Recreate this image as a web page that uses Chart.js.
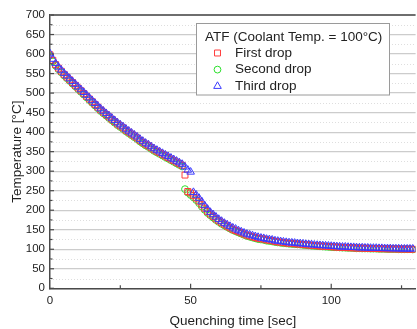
<!DOCTYPE html>
<html>
<head>
<meta charset="utf-8">
<script src="https://cdn.jsdelivr.net/npm/chart.js@4.4.1/dist/chart.umd.min.js"></script>
<style>
  html, body { margin: 0; padding: 0; background: #ffffff; overflow: hidden; }
  canvas { display: block; }
</style>
</head>
<body>
<canvas id="quench" width="421" height="329"></canvas>
<script>
// Quenching curves, ATF coolant at 100 degC (1 s steps)
const timeSec = [
    0, 1, 2, 3, 4, 5, 6, 7, 8, 9,
    10, 11, 12, 13, 14, 15, 16, 17, 18, 19,
    20, 21, 22, 23, 24, 25, 26, 27, 28, 29,
    30, 31, 32, 33, 34, 35, 36, 37, 38, 39,
    40, 41, 42, 43, 44, 45, 46, 47, 48, 49,
    50, 51, 52, 53, 54, 55, 56, 57, 58, 59,
    60, 61, 62, 63, 64, 65, 66, 67, 68, 69,
    70, 71, 72, 73, 74, 75, 76, 77, 78, 79,
    80, 81, 82, 83, 84, 85, 86, 87, 88, 89,
    90, 91, 92, 93, 94, 95, 96, 97, 98, 99,
    100, 101, 102, 103, 104, 105, 106, 107, 108, 109,
    110, 111, 112, 113, 114, 115, 116, 117, 118, 119,
    120, 121, 122, 123, 124, 125, 126, 127, 128, 129
];

const firstDrop = [
    598, 584, 573, 564, 556, 548, 541, 534, 527, 520,
    513, 506, 499, 492, 485, 478, 471, 464, 457, 451,
    445, 439, 433, 427, 421, 416, 411, 405, 400, 395,
    390, 385, 379, 374, 369, 365, 360, 355, 351, 347,
    343, 339, 335, 331, 327, 323, 319, 315, 290, 248,
    244, 238, 231, 223, 214, 205, 197, 190, 184, 178,
    173, 168, 164, 159, 155, 151, 148, 145, 142, 139,
    136, 134, 132, 130, 128, 127, 126, 124, 123, 122,
    120, 119, 118, 117, 116, 115.5, 115, 114, 113.5, 113,
    112, 111.5, 111, 110, 109.5, 109, 108, 108, 107.5, 107,
    106.5, 106, 105.5, 105, 105, 104.5, 104, 104, 103.5, 103,
    103, 103, 102.5, 102.5, 102, 102, 102, 101.5, 101.5, 101.5,
    101, 101, 101, 101, 100.5, 100.5, 100.5, 100.5, 100, 100
];

const secondDrop = [
    596, 581, 570, 561, 553, 545, 538, 531, 524, 517,
    510, 503, 496, 489, 482, 475, 468, 461, 454, 448,
    442, 436, 430, 424, 418, 413, 408, 402, 397, 392,
    387, 382, 376, 371, 366, 362, 357, 352, 348, 344,
    340, 336, 332, 328, 324, 320, 316, 312, 254, 245,
    239, 233, 226, 218, 209, 201, 193, 187, 181, 175,
    170, 165, 161, 157, 153, 149, 146, 143, 140, 137,
    134, 132, 130, 128, 126, 125, 124, 122, 121, 120,
    118.5, 117.5, 116.5, 115.5, 115, 114, 113.5, 113, 112.5, 112,
    111, 110.5, 110, 109, 108.5, 108, 107.5, 107, 106.5, 106,
    105.5, 105, 105, 104.5, 104, 104, 103.5, 103.5, 103, 102.5,
    102.5, 102, 102, 102, 101.5, 101.5, 101.5, 101, 101, 101,
    100.5, 100.5, 100.5, 100.5, 100, 100, 100, 100, 100, 99.5
];

const thirdDrop = [
    601, 587, 576, 567, 559, 551, 544, 537, 530, 523,
    516, 509, 502, 495, 488, 481, 474, 467, 460, 454,
    448, 442, 436, 430, 424, 419, 414, 408, 403, 398,
    393, 388, 382, 377, 372, 368, 363, 358, 354, 350,
    346, 342, 338, 334, 330, 326, 322, 318, 311, 303,
    298, 246, 239, 231, 222, 212, 203, 195, 189, 183,
    177, 172, 167, 163, 159, 155, 152, 148, 145, 142,
    139, 137, 135, 133, 131, 129, 128, 126, 125, 124,
    122, 121, 120, 119, 118, 117, 116.5, 116, 115, 114.5,
    114, 113, 112.5, 112, 111, 110.5, 110, 109.5, 109, 108.5,
    108, 107.5, 107, 106.5, 106, 106, 105.5, 105, 105, 104.5,
    104, 104, 103.5, 103.5, 103, 103, 103, 102.5, 102.5, 102,
    102, 102, 101.5, 101.5, 101.5, 101, 101, 101, 101, 101
];

const legendTitle = 'ATF (Coolant Temp. = 100°C)';
const seriesNames = ['First drop', 'Second drop', 'Third drop'];

const FONT = '"Liberation Sans", Arial, sans-serif';
const TEXT = '#222222';
const COLORS = {
    red: '#ff3c3c',
    green: '#2ee02e',
    blue: '#3a3aff'
};

function toPoints(values) {
    return timeSec.map((t, i) => ({ x: t, y: values[i] }));
}

// minor dotted gridlines, inward tick marks and the boxed legend
const frameExtras = {
    id: 'frameExtras',
    beforeDatasetsDraw(chart) {
        const { ctx, chartArea: area, scales: { y } } = chart;
        ctx.save();
        ctx.strokeStyle = '#dedede';
        ctx.lineWidth = 1;
        ctx.setLineDash([1, 2]);
        for (let v = 25; v < 700; v += 50) {
            const py = Math.round(y.getPixelForValue(v)) + 0.5;
            ctx.beginPath();
            ctx.moveTo(area.left, py);
            ctx.lineTo(area.right, py);
            ctx.stroke();
        }
        ctx.restore();
    },
    afterDraw(chart) {
        const { ctx, chartArea: area, scales: { x, y } } = chart;
        ctx.save();
        ctx.strokeStyle = '#4a4a4a';
        ctx.lineWidth = 1.2;
        for (let v = 0; v <= 700; v += 25) {
            const py = y.getPixelForValue(v);
            const len = v % 50 === 0 ? 4 : 2.5;
            ctx.beginPath();
            ctx.moveTo(area.left, py);
            ctx.lineTo(area.left + len, py);
            ctx.stroke();
        }
        for (let v = 25; v <= 125; v += 25) {
            const px = x.getPixelForValue(v);
            const len = v % 50 === 0 ? 4.5 : 3;
            ctx.beginPath();
            ctx.moveTo(px, area.bottom);
            ctx.lineTo(px, area.bottom - len);
            ctx.stroke();
        }

        // legend box
        const bx = 196.5, by = 23.5, bw = 193, bh = 71.5;
        ctx.fillStyle = '#ffffff';
        ctx.fillRect(bx, by, bw, bh);
        ctx.strokeStyle = '#9a9a9a';
        ctx.lineWidth = 1;
        ctx.strokeRect(bx, by, bw, bh);

        ctx.fillStyle = TEXT;
        ctx.font = '13.5px ' + FONT;
        ctx.textBaseline = 'middle';
        ctx.textAlign = 'left';
        ctx.fillText(legendTitle, 205, 37);

        chart.data.datasets.forEach((ds, i) => {
            const rowY = 53 + i * 16.6;
            ctx.strokeStyle = ds.borderColor;
            ctx.fillStyle = 'rgba(0,0,0,0)';
            ctx.lineWidth = 1;
            Chart.helpers.drawPoint(ctx, {
                pointStyle: ds.pointStyle,
                radius: ds.pointRadius,
                rotation: 0,
                borderWidth: 1
            }, 217.5, rowY);
            ctx.fillStyle = TEXT;
            ctx.fillText(seriesNames[i], 235, rowY);
        });
        ctx.restore();
    }
};

const ctx = document.getElementById('quench').getContext('2d');
new Chart(ctx, {
    type: 'scatter',
    data: {
        datasets: [
            {
                label: seriesNames[0],
                data: toPoints(firstDrop),
                pointStyle: 'rect',
                pointRadius: 4.2,
                borderColor: COLORS.red,
                backgroundColor: 'rgba(0,0,0,0)',
                pointBorderWidth: 1,
                order: 1
            },
            {
                label: seriesNames[1],
                data: toPoints(secondDrop),
                pointStyle: 'circle',
                pointRadius: 3.4,
                borderColor: COLORS.green,
                backgroundColor: 'rgba(0,0,0,0)',
                pointBorderWidth: 1,
                order: 2
            },
            {
                label: seriesNames[2],
                data: toPoints(thirdDrop),
                pointStyle: 'triangle',
                pointRadius: 4.4,
                borderColor: COLORS.blue,
                backgroundColor: 'rgba(0,0,0,0)',
                pointBorderWidth: 1,
                order: 0
            }
        ]
    },
    options: {
        responsive: false,
        animation: false,
        events: [],
        layout: { padding: { left: 0, right: 0, top: 15, bottom: 0 } },
        plugins: {
            legend: { display: false },
            tooltip: { enabled: false }
        },
        scales: {
            x: {
                type: 'linear',
                min: 0,
                max: 130,
                afterFit: scale => { scale.height = 40.7; },
                grid: { display: false, drawTicks: false },
                border: { color: '#4a4a4a', width: 1.5 },
                ticks: {
                    stepSize: 50,
                    includeBounds: false,
                    autoSkip: false,
                    maxRotation: 0,
                    padding: 6,
                    color: TEXT,
                    font: { family: FONT, size: 11.5 }
                },
                title: {
                    display: true,
                    text: 'Quenching time [sec]',
                    color: TEXT,
                    padding: { top: 0, bottom: 0 },
                    font: { family: FONT, size: 13.5, lineHeight: 1.08 }
                }
            },
            y: {
                type: 'linear',
                min: 0,
                max: 700,
                afterFit: scale => { scale.width = 50; },
                grid: {
                    drawTicks: false,
                    color: c => c.tick && c.tick.value === 700 ? '#6e6e6e' : '#cccccc',
                    lineWidth: c => c.tick && c.tick.value === 700 ? 2 : 1.2
                },
                border: { color: '#4a4a4a', width: 1.5 },
                ticks: {
                    stepSize: 50,
                    padding: 5,
                    color: TEXT,
                    font: { family: FONT, size: 11.5 }
                },
                title: {
                    display: true,
                    text: 'Temperature [°C]',
                    color: TEXT,
                    padding: { top: 9, bottom: 0 },
                    font: { family: FONT, size: 13.5 }
                }
            }
        }
    },
    plugins: [frameExtras]
});
</script>
</body>
</html>
